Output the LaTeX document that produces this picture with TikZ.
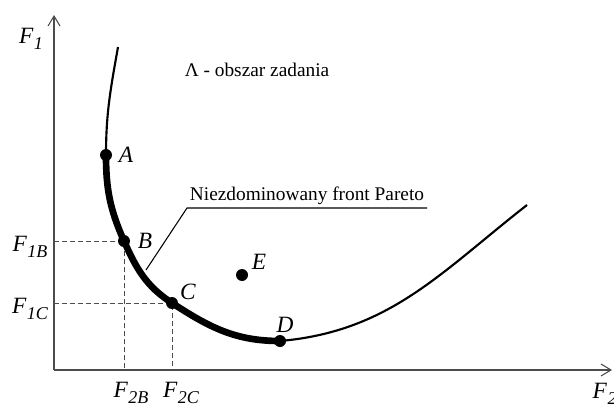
\documentclass[tikz,border=0pt]{standalone}
\usepackage{fontspec}
\setmainfont{Liberation Serif}
\usetikzlibrary{arrows.meta, positioning, calc}
\definecolor{osie}{gray}{0.3}
\newcommand{\Fsub}[1]{F\kern0.5pt\raisebox{-5pt}{\fontsize{13.5}{13.5}\selectfont #1}}

\tikzset{
  pkt/.style={fill=black},
  etyk/.style={font=\fontsize{17.5}{17.5}\selectfont\itshape, inner sep=1pt},
  opis/.style={font=\fontsize{14.5}{15}\selectfont, inner sep=2pt},
  podz/.style={osie, line width=0.6pt, dash pattern=on 3.5pt off 2.5pt},
}

\begin{document}
\begin{tikzpicture}[x=0.75pt, y=0.75pt, >={Straight Barb[length=7.5pt,width=9pt]}]
      \useasboundingbox (0,0) rectangle (614,408);
      % Axes
      \coordinate (O) at (54,38);
      \coordinate (Ytop) at (54,393);
      \coordinate (Xend) at (612,38);
      \draw[->, osie, line width=0.8pt] (O) -- (Ytop);
      \draw[->, osie, line width=0.8pt] (O) -- (Xend);
      \node[etyk] (f1) at (31,369) {\Fsub{1}};
      \node[etyk, anchor=west] (f2) at (591,14) {\Fsub{2}};
      % Points
      \coordinate (top) at (118,361);
      \coordinate (A) at (106,253);
      \coordinate (B) at (124,167);
      \coordinate (C) at (172,105);
      \coordinate (D) at (280,67);
      \coordinate (E) at (242,133);
      \coordinate (end) at (527,203);
      % Projections
      \draw[podz] (O |- B) -- (B) -- (B |- O);
      \draw[podz] (O |- C) -- (C) -- (C |- O);
      \node[etyk] (f1b) at (30,161) {\Fsub{1B}};
      \node[etyk] (f1c) at (30,99) {\Fsub{1C}};
      \node[etyk] (f2b) at (131,15) {\Fsub{2B}};
      \node[etyk] (f2c) at (181,15) {\Fsub{2C}};
      % Region boundary
      \draw[line width=1.6pt] (top) to[out=-100, in=90] (A);
      \draw[line width=1.6pt] (D) to[out=5, in=-142] (end);
      % Pareto front
      \draw[line width=5pt] (A) to[out=-90, in=114] (B)
        to[out=-66, in=147] (C) to[out=-33, in=180] (D);
      \foreach \p in {A,B,C,D,E}
        \fill[pkt] (\p) circle (4.5pt);
      \node[etyk] (lA) at (126,253) {A};
      \node[etyk] (lB) at (145,167) {B};
      \node[etyk] (lC) at (188,116) {C};
      \node[etyk] (lD) at (285,83) {D};
      \node[etyk] (lE) at (259,146) {E};
      % Leader
      \coordinate (L1) at (146,138);
      \coordinate (L2) at (187,200);
      \coordinate (L3) at (427,200);
      \draw[line width=0.8pt] (L1) -- (L2) -- (L3)
        node[opis, midway, above] (front) {Niezdominowany front Pareto};
      % Label
      \node[opis] (obszar) at (257,338) {Λ - obszar zadania};
\end{tikzpicture}
\end{document}
